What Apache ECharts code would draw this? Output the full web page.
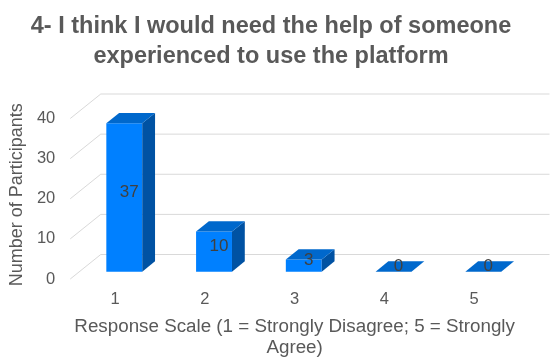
<!DOCTYPE html>
<html>
<head>
<meta charset="utf-8">
<script src="https://cdn.jsdelivr.net/npm/echarts@6/dist/echarts.min.js"></script>
<style>html,body{margin:0;padding:0;background:#fff;}#c{width:551px;height:359px;}</style>
</head>
<body>
<div id="c"></div>
<script>
const titleText = '4- I think I would need the help of someone\nexperienced to use the platform';
const categories = ['1', '2', '3', '4', '5'];
const participants = [37, 10, 3, 0, 0];
const yTickValues = [0, 10, 20, 30, 40];
const xAxisName = 'Response Scale (1 = Strongly Disagree; 5 = Strongly\nAgree)';
const yAxisName = 'Number of Participants';

const FONT = '"Liberation Sans", Arial, sans-serif';
const DEPTH = [30.5, -24.5];   // oblique depth vector of the plot box
const F0 = 0.30, F1 = 0.72;     // bar front/back depth fractions
const BAR_W = 0.4;              // fraction of band

const chart = echarts.init(document.getElementById('c'), null, {renderer: 'canvas'});

function wallItem(params, api) {
  const v = api.value(1);
  const p = api.coord([0, v]);
  const bw = api.size([1, 0])[0];
  const left = p[0] - bw / 2;
  const right = left + bw * categories.length;
  const y = p[1];
  const st = {stroke: '#d9d9d9', lineWidth: 1, fill: null};
  return {
    type: 'group',
    children: [
      {type: 'line', shape: {x1: left, y1: y, x2: left + DEPTH[0], y2: y + DEPTH[1]}, style: st},
      {type: 'line', shape: {x1: left + DEPTH[0], y1: y + DEPTH[1], x2: right + DEPTH[0], y2: y + DEPTH[1]}, style: st}
    ]
  };
}

function barItem(params, api) {
  const i = api.value(0), v = api.value(1);
  const base = api.coord([i, 0]);
  const top = api.coord([i, v]);
  const bw = api.size([1, 0])[0];
  const w = bw * BAR_W;
  const o0 = [F0 * DEPTH[0], F0 * DEPTH[1]];
  const o1 = [F1 * DEPTH[0], F1 * DEPTH[1]];
  const d = [o1[0] - o0[0], o1[1] - o0[1]];
  const xl = base[0] - w / 2 + o0[0], xr = xl + w;
  const yt = top[1] + o0[1], yb = base[1] + o0[1];
  const children = [];
  if (yb - yt > 0.5) {
    children.push({type: 'rect', shape: {x: xl, y: yt, width: w, height: yb - yt}, style: {fill: '#0080ff'}});
    children.push({type: 'polygon', shape: {points: [[xr, yt], [xr + d[0], yt + d[1]], [xr + d[0], yb + d[1]], [xr, yb]]}, style: {fill: '#0052a3'}});
  }
  children.push({type: 'polygon', shape: {points: [[xl, yt], [xr, yt], [xr + d[0], yt + d[1]], [xl + d[0], yt + d[1]]]}, style: {fill: '#0068cc'}});
  const fm = (F0 + F1) / 2;
  children.push({
    type: 'text',
    style: {
      text: String(v),
      x: base[0] + fm * DEPTH[0] - 1.5,
      y: (top[1] + base[1]) / 2 + fm * DEPTH[1],
      align: 'center', verticalAlign: 'middle',
      fill: '#404040', font: '17px ' + FONT
    }
  });
  return {type: 'group', children: children};
}

chart.setOption({
  animation: false,
  backgroundColor: '#ffffff',
  title: {
    text: titleText,
    left: 266, top: 7, textAlign: 'center',
    textStyle: {fontFamily: FONT, fontSize: 23.5, fontWeight: 'bold', color: '#595959', lineHeight: 30}
  },
  grid: {left: 68, right: 32, top: 118.5, bottom: 79, containLabel: false},
  xAxis: {
    type: 'category',
    data: categories,
    axisLine: {show: false}, axisTick: {show: false},
    axisLabel: {margin: 12, fontFamily: FONT, fontSize: 16.5, color: '#595959'},
    name: xAxisName, nameLocation: 'middle', nameGap: 37,
    nameTextStyle: {fontFamily: FONT, fontSize: 18.8, color: '#595959', lineHeight: 21}
  },
  yAxis: {
    type: 'value', min: 0, max: 40, interval: 10,
    axisLine: {show: false}, axisTick: {show: false}, splitLine: {show: false},
    axisLabel: {margin: 15, fontFamily: FONT, fontSize: 16.5, color: '#595959'},
    name: yAxisName, nameLocation: 'middle', nameGap: 41,
    nameTextStyle: {fontFamily: FONT, fontSize: 18, color: '#595959', padding: [0, 0, 0, 8]}
  },
  series: [
    {
      type: 'custom', silent: true, clip: false, z: 1,
      renderItem: wallItem,
      data: yTickValues.map(v => [0, v])
    },
    {
      type: 'custom', silent: true, clip: false, z: 2,
      renderItem: barItem,
      data: participants.map((v, i) => [i, v])
    }
  ]
});
</script>
</body>
</html>
